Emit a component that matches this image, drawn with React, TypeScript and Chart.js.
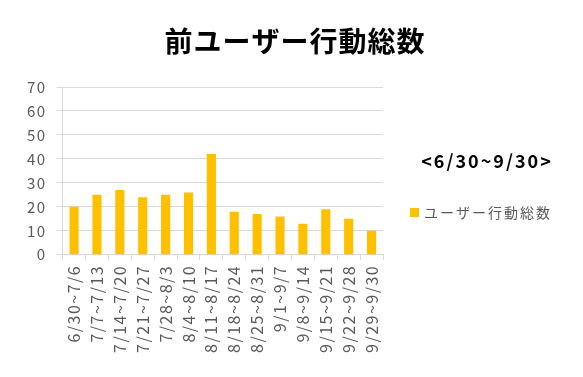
import React, { useEffect, useRef } from "react";
import { Chart, registerables } from "chart.js";

Chart.register(...registerables);

const categories = [
  "6/30~7/6", "7/7~7/13", "7/14~7/20", "7/21~7/27", "7/28~8/3", "8/4~8/10", "8/11~8/17",
  "8/18~8/24", "8/25~8/31", "9/1~9/7", "9/8~9/14", "9/15~9/21", "9/22~9/28", "9/29~9/30",
];
const seriesValues = [20, 25, 27, 24, 25, 26, 42, 18, 17, 16, 13, 19, 15, 10];
const seriesName = "ユーザー行動総数";
const chartTitle = "前ユーザー行動総数";
const periodLabel = "<6/30~9/30>";
const yTicks = [0, 10, 20, 30, 40, 50, 60, 70];

const FONT = "'Noto Sans CJK JP', 'Noto Sans', sans-serif";
const BAR_COLOR = "#ffc000";
const TEXT_COLOR = "#595959";

export default function App() {
  const ref = useRef<HTMLCanvasElement | null>(null);
  useEffect(() => {
    document.body.style.margin = "0";
    const canvas = ref.current!;
    const spacing = {
      id: "spacing",
      beforeUpdate(chart: any) {
        chart.ctx.letterSpacing = "1.5px";
      },
      beforeDraw(chart: any) {
        chart.ctx.letterSpacing = "1.5px";
      },
    };
    const overlay = {
      id: "overlay",
      afterDraw(chart: any) {
        const ctx = chart.ctx;
        ctx.save();
        ctx.fillStyle = "#000";
        ctx.textAlign = "center";
        ctx.textBaseline = "middle";
        ctx.letterSpacing = "1px";
        ctx.font = `bold 28px ${FONT}`;
        ctx.fillText(chartTitle, 295, 41);
        ctx.letterSpacing = "2px";
        ctx.font = `bold 18px ${FONT}`;
        ctx.fillText(periodLabel, 487, 161);
        ctx.fillStyle = BAR_COLOR;
        ctx.fillRect(410, 208, 9, 9);
        ctx.fillStyle = TEXT_COLOR;
        ctx.textAlign = "left";
        ctx.letterSpacing = "2px";
        ctx.font = `14px ${FONT}`;
        ctx.fillText(seriesName, 424, 213);
        ctx.restore();
      },
    };
    const chart = new Chart(canvas, {
      type: "bar",
      data: {
        labels: categories,
        datasets: [
          {
            label: seriesName,
            data: seriesValues,
            backgroundColor: BAR_COLOR,
            barPercentage: 0.8,
            categoryPercentage: 0.5,
          },
        ],
      },
      options: {
        animation: false,
        responsive: false,
        layout: { padding: { top: 87, right: 200, left: 17, bottom: 19 } },
        plugins: {
          legend: { display: false },
          title: { display: false },
          tooltip: { enabled: false },
        },
        scales: {
          x: {
            grid: { display: true, drawOnChartArea: false, drawTicks: true, tickLength: 5, offset: true, color: "#d9d9d9" },
            border: { color: "#d9d9d9" },
            ticks: {
              minRotation: 90,
              maxRotation: 90,
              autoSkip: false,
              color: TEXT_COLOR,
              font: { family: FONT, size: 16 },
              padding: 5,
            },
          },
          y: {
            min: 0,
            max: 70,
            afterBuildTicks: (axis: any) => {
              axis.ticks = yTicks.map((v) => ({ value: v }));
            },
            grid: { color: "#d9d9d9", tickLength: 6 },
            border: { color: "#d9d9d9" },
            ticks: {
              color: TEXT_COLOR,
              font: { family: FONT, size: 15 },
              padding: 10,
            },
          },
        },
      },
      plugins: [spacing, overlay],
    });
    return () => chart.destroy();
  }, []);
  return <canvas ref={ref} width={583} height={377} style={{ display: "block" }} />;
}
